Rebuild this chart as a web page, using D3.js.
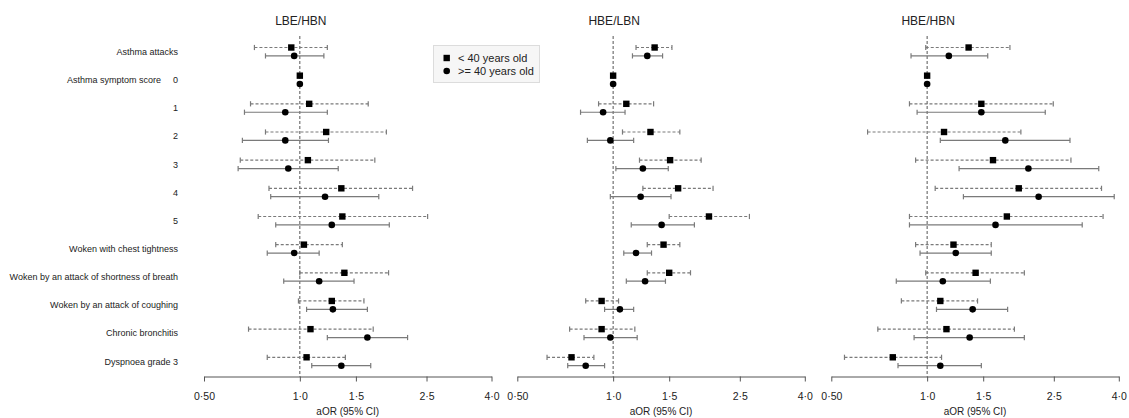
<!DOCTYPE html>
<html>
<head>
<meta charset="utf-8">
<script src="https://cdn.jsdelivr.net/npm/d3@7"></script>
<style>
  body { margin: 0; background: #fff; }
  svg { font-family: "Liberation Sans", Arial, sans-serif; }
</style>
</head>
<body>
<svg id="chart" width="1129" height="418"></svg>
<script>
// row labels (left column) and the number next to the symptom score rows
var categories = ["Asthma attacks", "Asthma symptom score", "", "", "", "", "",
    "Woken with chest tightness", "Woken by an attack of shortness of breath",
    "Woken by an attack of coughing", "Chronic bronchitis", "Dyspnoea grade 3"];
var subLabels = ["", "0", "1", "2", "3", "4", "5", "", "", "", "", ""];

var panelTitles = ["LBE/HBN", "HBE/LBN", "HBE/HBN"];
var seriesNames = ["< 40 years old", ">= 40 years old"];
var tickValues = [0.5, 1, 1.5, 2.5, 4];
var tickLabels = ["0·50", "1·0", "1·5", "2·5", "4·0"];

// [aOR, lower, upper] per row; null = reference category
var lbeHbnYoung = [[0.94, 0.72, 1.22], [1, null, null], [1.07, 0.70, 1.64], [1.21, 0.78, 1.87],
    [1.06, 0.65, 1.72], [1.35, 0.80, 2.26], [1.36, 0.74, 2.52], [1.03, 0.84, 1.36],
    [1.38, 1.00, 1.90], [1.26, 0.99, 1.59], [1.08, 0.69, 1.70], [1.05, 0.79, 1.39]];
var lbeHbnOld = [[0.96, 0.78, 1.19], [1, null, null], [0.90, 0.67, 1.22], [0.90, 0.66, 1.23],
    [0.92, 0.64, 1.32], [1.20, 0.81, 1.77], [1.26, 0.84, 1.91], [0.96, 0.79, 1.15],
    [1.15, 0.89, 1.48], [1.27, 1.05, 1.63], [1.63, 1.22, 2.18], [1.35, 1.09, 1.67]];
var hbeLbnYoung = [[1.35, 1.18, 1.53], [1, null, null], [1.10, 0.90, 1.34], [1.31, 1.07, 1.62],
    [1.51, 1.21, 1.89], [1.60, 1.24, 2.06], [2.00, 1.50, 2.68], [1.44, 1.28, 1.62],
    [1.50, 1.28, 1.75], [0.92, 0.82, 1.04], [0.92, 0.73, 1.17], [0.74, 0.62, 0.87]];
var hbeLbnOld = [[1.28, 1.15, 1.43], [1, null, null], [0.93, 0.79, 1.09], [0.98, 0.83, 1.16],
    [1.24, 1.02, 1.49], [1.22, 0.98, 1.52], [1.42, 1.14, 1.80], [1.18, 1.08, 1.32],
    [1.26, 1.10, 1.46], [1.05, 0.94, 1.16], [0.98, 0.81, 1.19], [0.82, 0.72, 0.94]];
var hbeHbnYoung = [[1.35, 0.99, 1.82], [1, null, null], [1.48, 0.88, 2.49], [1.13, 0.65, 1.97],
    [1.61, 0.92, 2.83], [1.94, 1.06, 3.53], [1.78, 0.88, 3.57], [1.21, 0.92, 1.59],
    [1.42, 0.99, 2.02], [1.10, 0.83, 1.44], [1.15, 0.70, 1.88], [0.78, 0.55, 1.11]];
var hbeHbnOld = [[1.17, 0.89, 1.55], [1, null, null], [1.48, 0.93, 2.35], [1.76, 1.10, 2.81],
    [2.08, 1.26, 3.46], [2.24, 1.30, 3.87], [1.64, 0.88, 3.07], [1.23, 0.95, 1.59],
    [1.12, 0.80, 1.58], [1.39, 1.07, 1.79], [1.36, 0.91, 2.02], [1.10, 0.81, 1.48]];

var panels = [
    { title: panelTitles[0], young: lbeHbnYoung, old: lbeHbnOld, left: 204 },
    { title: panelTitles[1], young: hbeLbnYoung, old: hbeLbnOld, left: 517.3 },
    { title: panelTitles[2], young: hbeHbnYoung, old: hbeHbnOld, left: 831.3 }
];

var svg = d3.select("#chart"),
    panelWidth = 287.5,
    axisY = 376.5,
    half = 4.2,
    capH = 2.6,
    lineColor = "#7a7a7a";

var y = d3.scalePoint()
    .domain(d3.range(categories.length))
    .range([51.7, 361.5]);

// row labels
var labels = svg.append("g").attr("font-size", 9).attr("fill", "#222");
categories.forEach(function (c, i) {
    if (c) {
        labels.append("text")
            .attr("x", i === 1 ? 161 : 178)
            .attr("y", y(i))
            .attr("dy", "0.35em")
            .attr("text-anchor", "end")
            .text(c);
    }
    if (subLabels[i]) {
        labels.append("text")
            .attr("x", 178)
            .attr("y", y(i))
            .attr("dy", "0.35em")
            .attr("text-anchor", "end")
            .text(subLabels[i]);
    }
});

panels.forEach(function (p) {
    var x = d3.scaleLog()
        .domain([0.5, 4])
        .range([p.left, p.left + panelWidth]);

    var g = svg.append("g");

    g.append("text")
        .attr("x", x(1) + 1)
        .attr("y", 25)
        .attr("text-anchor", "middle")
        .attr("font-size", 12)
        .attr("fill", "#222")
        .text(p.title);

    // reference line at aOR = 1
    g.append("line")
        .attr("x1", x(1)).attr("x2", x(1))
        .attr("y1", 36).attr("y2", axisY)
        .attr("stroke", "#555")
        .attr("stroke-width", 1)
        .attr("stroke-dasharray", "3,2");

    var axis = g.append("g")
        .attr("transform", "translate(0," + axisY + ")")
        .call(d3.axisBottom(x)
            .tickValues(tickValues)
            .tickFormat(function (d, i) { return tickLabels[i]; })
            .tickSize(5)
            .tickSizeOuter(0)
            .tickPadding(11));
    axis.select(".domain").attr("stroke", "#555");
    axis.selectAll(".tick line").attr("stroke", "#555");
    axis.selectAll(".tick text")
        .attr("font-size", 10.5)
        .attr("font-family", "Liberation Sans, Arial, sans-serif")
        .attr("fill", "#222");

    g.append("text")
        .attr("x", p.left + panelWidth / 2)
        .attr("y", 415)
        .attr("text-anchor", "middle")
        .attr("font-size", 10)
        .attr("fill", "#222")
        .text("aOR (95% CI)");

    [{ data: p.young, off: -half, dash: "3,2", shape: "square" },
     { data: p.old, off: half, dash: null, shape: "circle" }].forEach(function (s) {
        var rows = g.append("g")
            .selectAll("g")
            .data(s.data)
            .enter()
            .append("g")
            .attr("transform", function (d, i) {
                return "translate(0," + (y(i) + s.off) + ")";
            });

        var ci = rows.filter(function (d) { return d[1] !== null; });
        ci.append("line")
            .attr("x1", function (d) { return x(d[1]); })
            .attr("x2", function (d) { return x(d[2]); })
            .attr("stroke", lineColor)
            .attr("stroke-width", 1.2)
            .attr("stroke-dasharray", s.dash);
        [1, 2].forEach(function (k) {
            ci.append("line")
                .attr("x1", function (d) { return x(d[k]); })
                .attr("x2", function (d) { return x(d[k]); })
                .attr("y1", -capH).attr("y2", capH)
                .attr("stroke", lineColor)
                .attr("stroke-width", 1.2);
        });

        if (s.shape === "square") {
            rows.append("rect")
                .attr("x", function (d) { return x(d[0]) - 3.2; })
                .attr("y", -3.2)
                .attr("width", 6.4)
                .attr("height", 6.4)
                .attr("fill", "#000");
        } else {
            rows.append("circle")
                .attr("cx", function (d) { return x(d[0]); })
                .attr("r", 3.3)
                .attr("fill", "#000");
        }
    });
});

// legend
var legend = svg.append("g");
legend.append("rect")
    .attr("x", 433.5).attr("y", 45.5)
    .attr("width", 106).attr("height", 37)
    .attr("fill", "#f6f6f6")
    .attr("stroke", "#dcdcdc");
legend.append("rect")
    .attr("x", 443.5).attr("y", 54.8)
    .attr("width", 6.4).attr("height", 6.4)
    .attr("fill", "#000");
legend.append("circle")
    .attr("cx", 446.7).attr("cy", 71)
    .attr("r", 3.3)
    .attr("fill", "#000");
seriesNames.forEach(function (n, i) {
    legend.append("text")
        .attr("x", 458)
        .attr("y", 58 + i * 13)
        .attr("dy", "0.35em")
        .attr("font-size", 11)
        .attr("fill", "#222")
        .text(n);
});
</script>
</body>
</html>
